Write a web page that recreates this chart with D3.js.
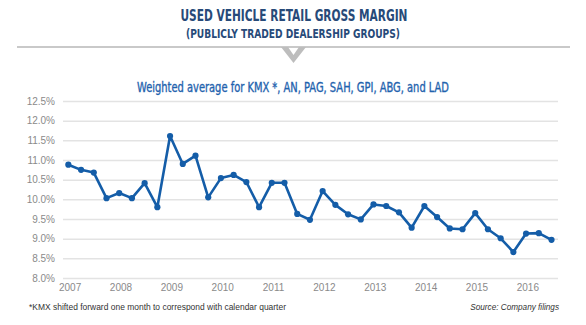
<!DOCTYPE html>
<html lang="en">
<head>
    <meta charset="UTF-8">
    <title>Used Vehicle Retail Gross Margin</title>
    <script src="https://cdn.jsdelivr.net/npm/d3@7"></script>
    <style>
        html, body {
            margin: 0;
            background: #fff;
        }
        .cond { font-family: "Liberation Sans Narrow", "DejaVu Sans Condensed", "Roboto", sans-serif; }
        .tick text { font-family: "Liberation Sans", Arial, sans-serif; }
    </style>
</head>
<body>
    <div id="vis"></div>

    <script>

        // quarterly weighted average margin (%), Q1 2007 .. Q3 2016
        var years = [2007, 2008, 2009, 2010, 2011, 2012, 2013, 2014, 2015, 2016];
        var quarters = ["Q1", "Q2", "Q3", "Q4"];
        var margin_pct = [
            10.88, 10.75, 10.68, 10.03,
            10.16, 10.03, 10.41, 9.80,
            11.61, 10.90, 11.11, 10.05,
            10.54, 10.62, 10.44, 9.80,
            10.42, 10.42, 9.63, 9.48,
            10.21, 9.86, 9.62, 9.49,
            9.87, 9.83, 9.67, 9.28,
            9.83, 9.55, 9.26, 9.24,
            9.65, 9.24, 9.01, 8.66,
            9.13, 9.14, 8.97
        ];
        var y_ticks = [8.0, 8.5, 9.0, 9.5, 10.0, 10.5, 11.0, 11.5, 12.0, 12.5];

        var mydata = margin_pct.map(function(v, i) {
            return {idx: i, year: years[Math.floor(i / 4)], q: quarters[i % 4], value: v};
        });

        var W = 586, H = 325;
        var plot = {left: 63, right: 558, top: 101, bottom: 278};

        var svg = d3.select('#vis')
            .append('svg')
                .attr('width', W)
                .attr('height', H);

        /*
         *  HEADER
         */
        svg.append('text')
            .attr('class', 'cond')
            .attr('x', 294).attr('y', 20.5)
            .attr('text-anchor', 'middle')
            .attr('font-size', 16.5)
            .attr('font-weight', 'bold')
            .attr('fill', '#274a79')
            .attr('textLength', 227)
            .attr('lengthAdjust', 'spacingAndGlyphs')
            .text('USED VEHICLE RETAIL GROSS MARGIN');

        svg.append('text')
            .attr('class', 'cond')
            .attr('x', 293).attr('y', 37.5)
            .attr('text-anchor', 'middle')
            .attr('font-size', 11.5)
            .attr('font-weight', 'bold')
            .attr('fill', '#274a79')
            .attr('textLength', 214)
            .attr('lengthAdjust', 'spacingAndGlyphs')
            .text('(PUBLICLY TRADED DEALERSHIP GROUPS)');

        // divider with chevron
        svg.append('line')
            .attr('x1', 17).attr('x2', 570)
            .attr('y1', 47).attr('y2', 47)
            .attr('stroke', '#c9c9c9')
            .attr('stroke-width', 2);

        svg.append('path')
            .attr('d', 'M281,47 L288,47 L293.5,55 L299,47 L306,47 L293.5,63 Z')
            .attr('fill', '#bdbdbd');

        // blue subtitle, slightly heavier than the narrow regular face
        svg.append('text')
            .attr('class', 'cond')
            .attr('x', 293).attr('y', 92)
            .attr('text-anchor', 'middle')
            .attr('font-size', 14)
            .attr('fill', '#1f63ae')
            .attr('stroke', '#1f63ae')
            .attr('stroke-width', 0.35)
            .attr('textLength', 312)
            .attr('lengthAdjust', 'spacingAndGlyphs')
            .text('Weighted average for KMX *, AN, PAG, SAH, GPI, ABG, and LAD');

        /*
         *  SCALES + AXES
         */
        var x_scale = d3.scaleLinear()
            .domain([-0.42, 38.51])
            .range([plot.left, plot.right]);

        var y_scale = d3.scaleLinear()
            .domain([8.0, 12.5])
            .range([plot.bottom, plot.top]);

        // horizontal gridlines
        svg.append('g')
            .attr('class', 'grid')
            .attr('transform', 'translate(' + plot.left + ',0)')
            .call(d3.axisLeft(y_scale)
                .tickValues(y_ticks)
                .tickSize(-(plot.right - plot.left))
                .tickFormat(''))
            .call(function(g) {
                g.select('.domain').remove();
                g.selectAll('line').attr('stroke', '#e3e3e3').attr('stroke-width', 1.5);
            });

        // y labels
        svg.append('g')
            .attr('class', 'y axis')
            .attr('transform', 'translate(55,0)')
            .call(d3.axisLeft(y_scale)
                .tickValues(y_ticks)
                .tickSize(0)
                .tickPadding(0)
                .tickFormat(function(d) { return d.toFixed(1) + '%'; }))
            .call(function(g) {
                g.select('.domain').remove();
                g.selectAll('text').attr('fill', '#8a8a8a').attr('font-size', 10);
            });

        // x labels at Q1 of each year
        svg.append('g')
            .attr('class', 'x axis')
            .attr('transform', 'translate(0,' + plot.bottom + ')')
            .call(d3.axisBottom(x_scale)
                .tickValues(years.map(function(y, i) { return i * 4 + 0.1; }))
                .tickSize(0)
                .tickPadding(6)
                .tickFormat(function(d, i) { return years[i]; }))
            .call(function(g) {
                g.select('.domain').remove();
                g.selectAll('text').attr('fill', '#8a8a8a').attr('font-size', 10);
            });

        /*
         *  SERIES
         */
        var valueline = d3.line()
            .x(function(d) { return x_scale(d.idx); })
            .y(function(d) { return y_scale(d.value); });

        svg.append('path')
            .datum(mydata)
            .attr('fill', 'none')
            .attr('stroke', '#145da8')
            .attr('stroke-width', 2.6)
            .attr('stroke-linejoin', 'round')
            .attr('d', valueline);

        svg.selectAll('circle.pt')
            .data(mydata)
            .enter().append('circle')
                .attr('class', 'pt')
                .attr('cx', function(d) { return x_scale(d.idx); })
                .attr('cy', function(d) { return y_scale(d.value); })
                .attr('r', 3.1)
                .attr('fill', '#145da8');

        /*
         *  FOOTER
         */
        svg.append('text')
            .attr('x', 29).attr('y', 310)
            .attr('font-family', '"Liberation Sans", Arial, sans-serif')
            .attr('font-size', 8.2)
            .attr('fill', '#333')
            .attr('textLength', 257)
            .attr('lengthAdjust', 'spacingAndGlyphs')
            .text('*KMX shifted forward one month to correspond with calendar quarter');

        svg.append('text')
            .attr('x', 559).attr('y', 310)
            .attr('text-anchor', 'end')
            .attr('font-family', '"Liberation Sans", Arial, sans-serif')
            .attr('font-size', 8.2)
            .attr('font-style', 'italic')
            .attr('fill', '#333')
            .text('Source: Company filings');

    </script>
</body>
</html>
